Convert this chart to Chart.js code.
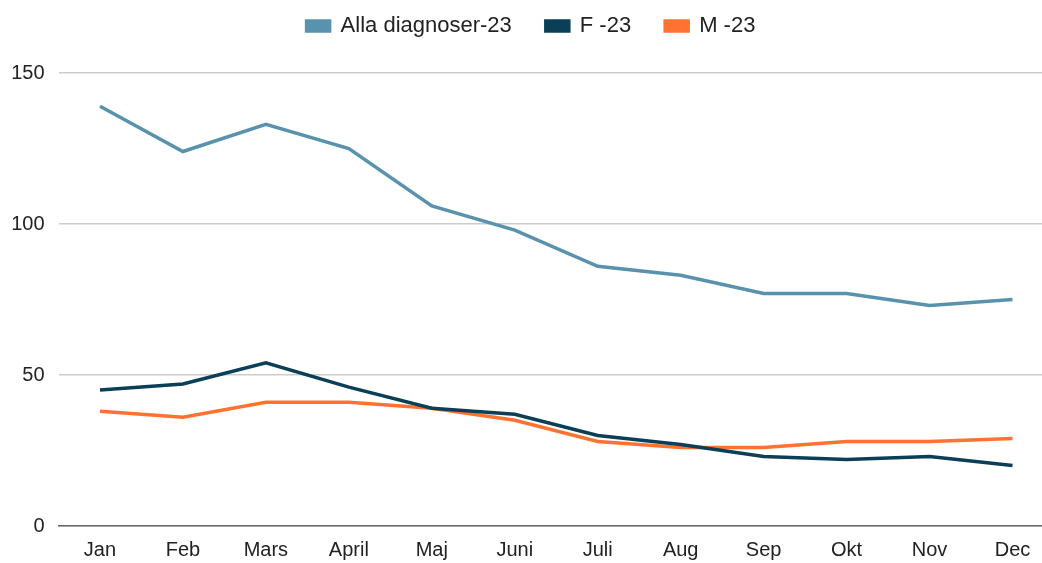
<!DOCTYPE html>
<html>
<head>
<meta charset="utf-8">
<script src="https://cdn.jsdelivr.net/npm/chart.js@4/dist/chart.umd.min.js"></script>
<style>
  html, body { margin: 0; padding: 0; background: #fff; overflow: hidden; }
  #wrap { width: 1054px; height: 563px; }
</style>
</head>
<body>
<div id="wrap"><canvas id="chart" width="1054" height="563"></canvas></div>
<script>
const months = ['Jan', 'Feb', 'Mars', 'April', 'Maj', 'Juni', 'Juli', 'Aug', 'Sep', 'Okt', 'Nov', 'Dec'];
const allaDiagnoser = [139, 124, 133, 125, 106, 98, 86, 83, 77, 77, 73, 75];
const kvinnor = [45, 47, 54, 46, 39, 37, 30, 27, 23, 22, 23, 20];
const man = [38, 36, 41, 41, 39, 35, 28, 26, 26, 28, 28, 29];
const yTicks = [0, 50, 100, 150];

const fontFamily = '"Liberation Sans", Arial, sans-serif';

// legend gets a fixed height so the plot starts at the 150 line,
// and is drawn a bit higher up / to the right
const legendGap = {
    id: 'legendGap',
    beforeInit(chart) {
        const legend = chart.legend;
        const fit = legend.fit;
        legend.fit = function () {
            fit.bind(legend)();
            this.height = 73;
        };
        const draw = legend.draw;
        legend.draw = function () {
            const c = chart.ctx;
            c.save();
            c.translate(4, -19);
            draw.bind(legend)();
            c.restore();
        };
    }
};

const ctx = document.getElementById('chart').getContext('2d');
new Chart(ctx, {
    type: 'line',
    data: {
        labels: months,
        datasets: [
            { label: 'Alla diagnoser-23', data: allaDiagnoser, borderColor: '#5892ad', backgroundColor: '#5892ad' },
            { label: 'F -23', data: kvinnor, borderColor: '#0b3f57', backgroundColor: '#0b3f57' },
            { label: 'M -23', data: man, borderColor: '#ff7232', backgroundColor: '#ff7232' }
        ]
    },
    options: {
        responsive: false,
        animation: false,
        layout: { padding: { top: 0, left: 0, right: 0, bottom: 0 } },
        elements: {
            line: { borderWidth: 3.5, tension: 0, fill: false },
            point: { radius: 0 }
        },
        plugins: {
            legend: {
                position: 'top',
                labels: {
                    boxWidth: 23,
                    boxHeight: 10,
                    padding: 34,
                    color: '#222',
                    font: { family: fontFamily, size: 22 }
                }
            },
            tooltip: { enabled: false }
        },
        scales: {
            x: {
                offset: true,
                grid: { display: false, drawTicks: false },
                border: { color: '#666', width: 1.5 },
                ticks: { color: '#222', padding: 12, font: { family: fontFamily, size: 20 }, maxRotation: 0 },
                afterFit(scale) { scale.height = 37; }
            },
            y: {
                min: 0,
                max: 150,
                afterBuildTicks(scale) { scale.ticks = yTicks.map(v => ({ value: v })); },
                grid: { color: '#cccccc', lineWidth: 1.5, drawTicks: false },
                border: { display: false },
                ticks: { color: '#222', padding: 14, font: { family: fontFamily, size: 20 } },
                afterFit(scale) { scale.width = 58.5; }
            }
        }
    },
    plugins: [legendGap]
});
</script>
</body>
</html>
